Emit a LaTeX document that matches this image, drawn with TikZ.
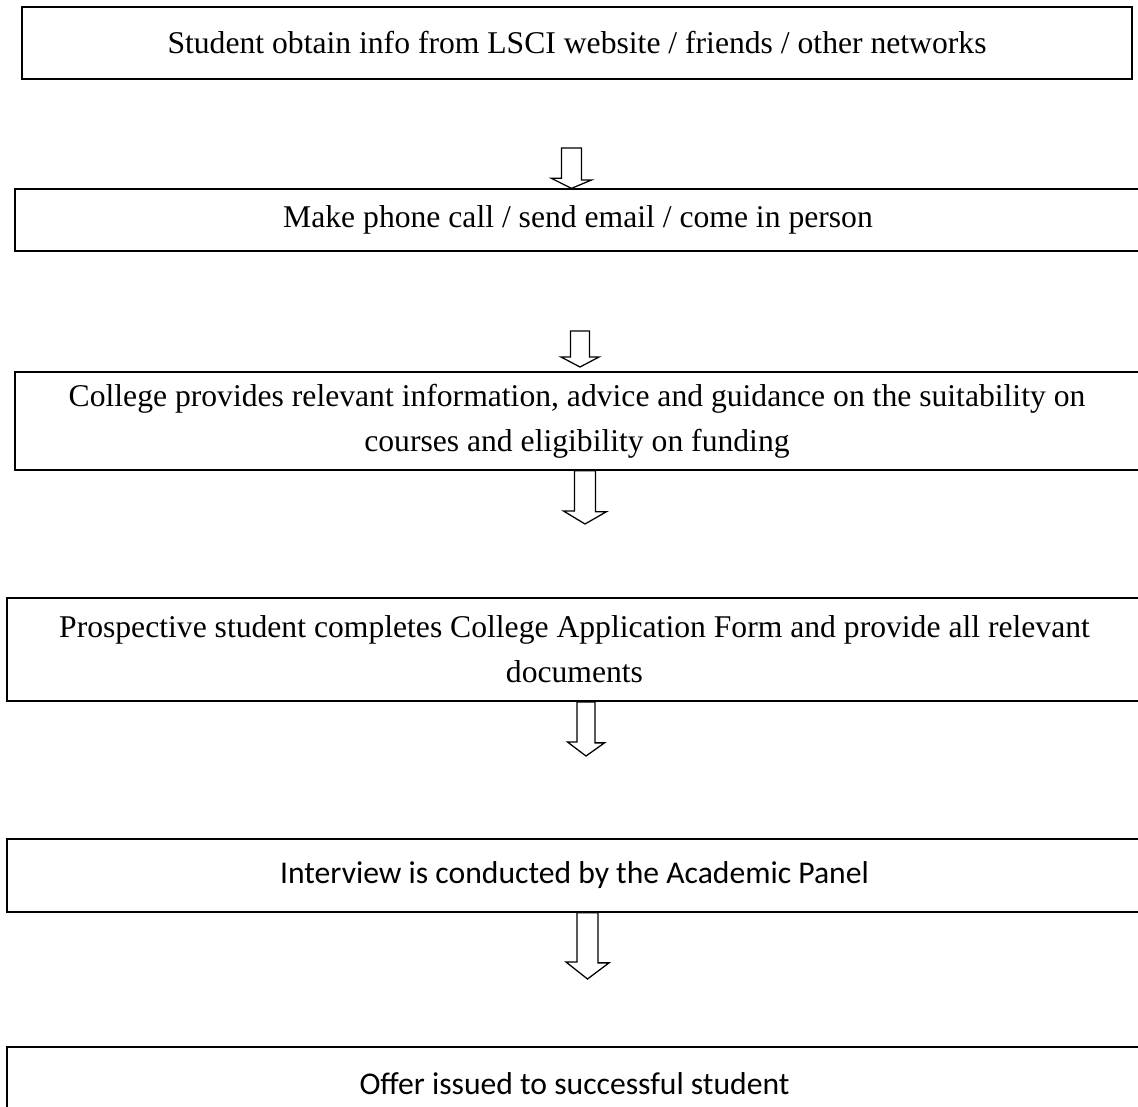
\documentclass[tikz,border=0pt]{standalone}
\usepackage{fontspec}
\setmainfont{Liberation Serif}
\newfontfamily\calibrifont{Carlito}
\usepackage{tikz}
\usetikzlibrary{positioning,calc}

\begin{document}
\begin{tikzpicture}[
    x=0.025cm, y=-0.025cm,
    stepbox/.style={rectangle, draw=black, line width=1.2pt, inner sep=0pt, align=center,
        font=\fontsize{22.5}{32}\selectfont},
    sansbox/.style={stepbox, font=\calibrifont\fontsize{22.5}{32}\selectfont},
    hollow/.style={draw=black, fill=white, line width=0.9pt, line join=miter}
]
\useasboundingbox (0,0) rectangle (1138,1106);

% Steps
\node[stepbox, minimum width=27.75cm, minimum height=1.8cm] (s1) at (577,43)
    {Student obtain info from LSCI website / friends / other networks};
\node[stepbox, minimum width=28.15cm, minimum height=1.54cm] (s2) at (578,220)
    {Make phone call / send email / come in person};
\node[stepbox, minimum width=28.1cm, minimum height=2.44cm] (s3) at (577,421)
    {College provides relevant information, advice and guidance on the suitability on\\
     courses and eligibility on funding};
\node[stepbox, minimum width=28.375cm, minimum height=2.575cm] (s4) at (574.5,649.5)
    {Prospective student completes College Application Form and provide all relevant\\
     documents};
\node[sansbox, minimum width=28.375cm, minimum height=1.825cm] (s5) at (574.5,875.5)
    {Interview is conducted by the Academic Panel};
\node[sansbox, minimum width=28.375cm, minimum height=1.825cm] (s6) at (574.5,1083.5)
    {Offer issued to successful student};

% Arrow 1: s1 -> s2
\coordinate (a1) at (571.5,148);
\coordinate (b1) at (a1 |- s2.north);
\draw[hollow] ($(a1)+(-10,0)$) -- ($(a1)+(10,0)$) -- ++(0,32) -- ++(10,0)
    -- (b1) -- ($(b1)+(-20,-10)$) -- ++(10,0) -- cycle;

% Arrow 2: s2 -> s3
\coordinate (a2) at (580,331);
\coordinate (b2) at (580,367);
\draw[hollow] ($(a2)+(-9.5,0)$) -- ($(a2)+(9.5,0)$) -- ++(0,26) -- ++(9.5,0)
    -- (b2) -- ($(b2)+(-19,-10)$) -- ++(9.5,0) -- cycle;

% Arrow 3: s3 -> s4
\coordinate (a3) at (s3.south -| 585,0);
\coordinate (b3) at (585,524);
\draw[hollow] ($(a3)+(-10.5,0)$) -- ($(a3)+(10.5,0)$) -- ++(0,41) -- ++(11,0)
    -- (b3) -- ($(b3)+(-21.5,-13)$) -- ++(11,0) -- cycle;

% Arrow 4: s4 -> s5
\coordinate (a4) at (s4.south -| 586,0);
\coordinate (b4) at (586,756);
\draw[hollow] ($(a4)+(-9,0)$) -- ($(a4)+(9,0)$) -- ++(0,41) -- ++(9.5,0)
    -- (b4) -- ($(b4)+(-18.5,-14)$) -- ++(9.5,0) -- cycle;

% Arrow 5: s5 -> s6
\coordinate (a5) at (s5.south -| 587.5,0);
\coordinate (b5) at (587.5,979);
\draw[hollow] ($(a5)+(-10.5,0)$) -- ($(a5)+(10.5,0)$) -- ++(0,50) -- ++(11,0)
    -- (b5) -- ($(b5)+(-21.5,-17)$) -- ++(11,0) -- cycle;

\end{tikzpicture}
\end{document}
